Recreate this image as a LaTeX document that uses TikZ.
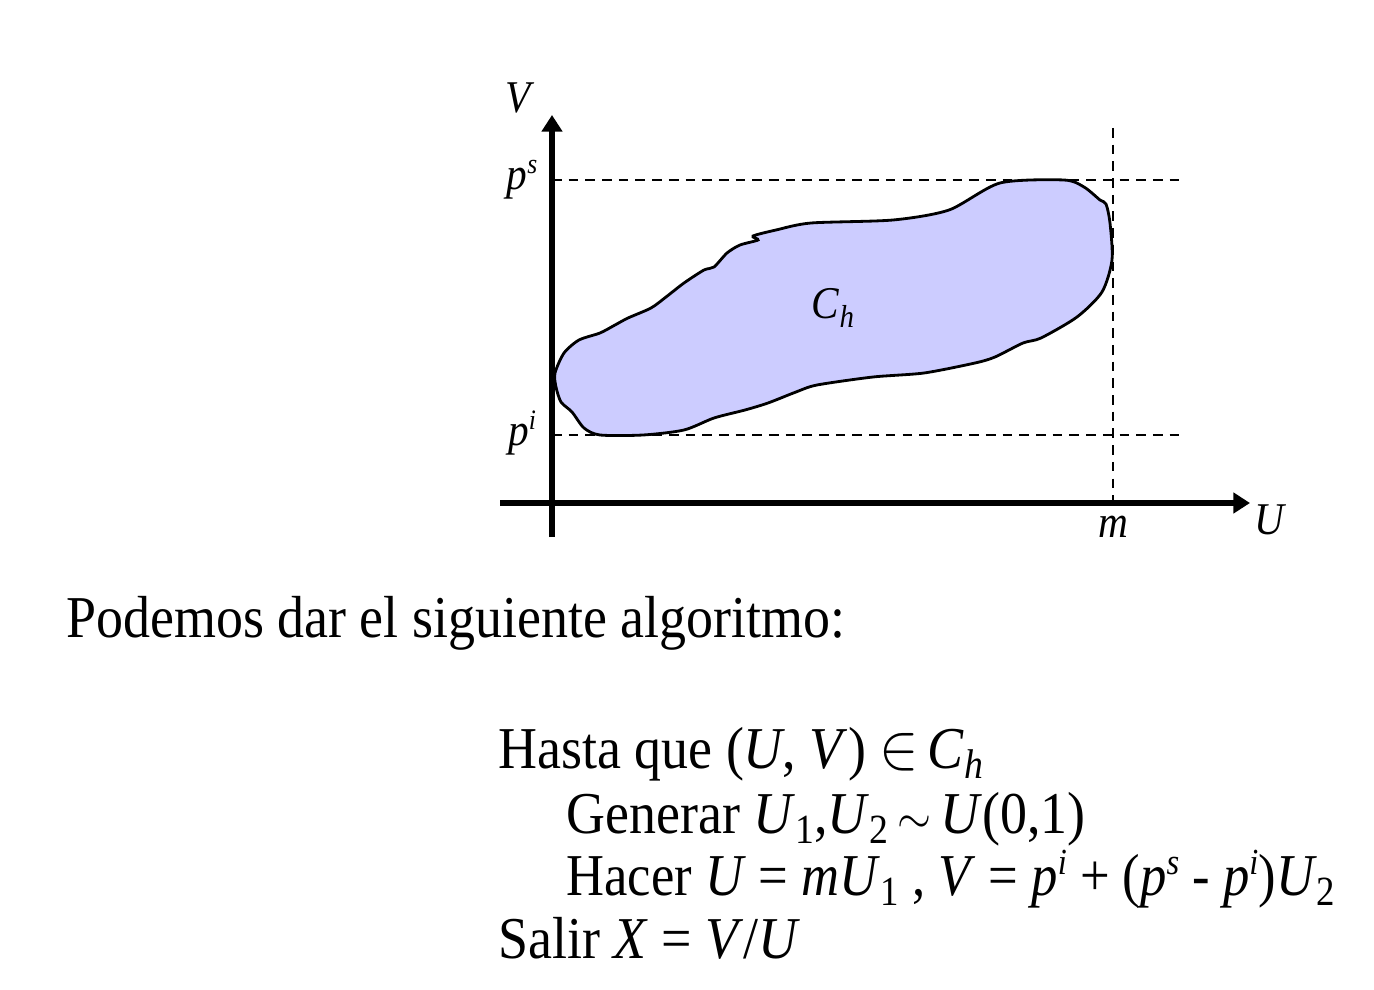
\documentclass[tikz,border=0pt]{standalone}
\usepackage{fontspec}
\setmainfont{Liberation Serif}
\usetikzlibrary{arrows.meta}
\definecolor{relleno}{RGB}{204,204,255}
\newcommand{\vi}[1]{\textit{#1}}
\newcommand{\bajo}[1]{\raisebox{-0.4ex}{\scalebox{0.7}{#1}}}
\newcommand{\arriba}[1]{\raisebox{0.75ex}{\scalebox{0.62}{#1}}}
\tikzset{
    eje/.style={line width=3.1pt, -{Triangle[length=9.5pt, width=11.5pt]}},
    guia/.style={line width=1.4pt, dash pattern=on 5.5pt off 4pt},
    etiq/.style={font=\fontsize{23.5}{28}\selectfont, inner sep=0pt, transform shape, yscale=1.1},
    texto/.style={font=\fontsize{30.7}{36}\selectfont, inner sep=0pt, anchor=base west, transform shape, yscale=1.1}
}
\begin{document}
\begin{tikzpicture}[x=0.02cm, y=-0.02cm]
    \useasboundingbox (0,0) rectangle (1374,990);
    % region C_h
    \draw[fill=relleno, line width=1.6pt] plot[smooth cycle, tension=0.45] coordinates {
        (555,373) (564,353) (579,340) (600,333) (615,325) (628,318) (651,308)
        (666,297) (684,283) (704,270) (714,267) (727,253) (740,245) (758,240)
        (753,236) (776,230) (811,223) (893,220) (949,210) (1000,183) (1064,180)
        (1084,187) (1100,200) (1106,204) (1110,223) (1112,260) (1102,292)
        (1077,317) (1041,338) (1023,343) (995,357) (975,363) (924,373) (873,377)
        (817,385) (796,392) (768,403) (745,410) (714,418) (684,430) (643,435)
        (600,435) (584,428) (572,412) (561,402) (556,387)};
    \path coordinate (O) at (552,503)
        coordinate (Vpie) at (552,537)
        coordinate (Vtip) at (552,115)
        coordinate (Uini) at (500,503)
        coordinate (Utip) at (1250,503)
        coordinate (PSi) at (552,180)
        coordinate (PSf) at (1180,180)
        coordinate (PIi) at (552,435)
        coordinate (PIf) at (1180,435)
        coordinate (Marr) at (1113,128)
        coordinate (Mabj) at (1113,503);
    \draw[guia] (PSi) -- (PSf);
    \draw[guia] (PIi) -- (PIf);
    \draw[guia] (Marr) -- (Mabj);
    \draw[eje] (Vpie) -- (Vtip);
    \draw[eje] (Uini) -- (Utip);
    \path node[etiq] (V) at (520,98) {\vi{V}}
        node[etiq] (U) at (1271,520) {\vi{U}}
        node[etiq] (ps) at (522,180) {\vi{p}\arriba{\vi{s}}}
        node[etiq] (pi) at (522,433) {\vi{p}\arriba{\vi{i}}}
        node[etiq] (m) at (1113,527) {\vi{m}}
        node[etiq] (Ch) at (833,308) {\vi{C}\bajo{\vi{h}}};
    % algoritmo
    \path node[texto] (intro) at (66,637) {Podemos dar el siguiente algoritmo:}
        node[texto] (hasta) at (498,768) {Hasta que (\vi{U}, \vi{V}) \scalebox{1.35}{$\in$}\,\vi{C}\bajo{\vi{h}}}
        node[texto] (generar) at (566,833) {Generar \vi{U}\bajo{1},\vi{U}\bajo{2}\,$\sim$\,\vi{U}(0,1)}
        node[texto, xscale=0.975] (hacer) at (566,895) {Hacer \vi{U} = \vi{mU}\bajo{1} , \vi{V} = \vi{p}\arriba{\vi{i}} + (\vi{p}\arriba{\vi{s}} - \vi{p}\arriba{\vi{i}})\vi{U}\bajo{2}}
        node[texto] (salir) at (498,958) {Salir \vi{X} = \vi{V}/\vi{U}};
\end{tikzpicture}
\end{document}
